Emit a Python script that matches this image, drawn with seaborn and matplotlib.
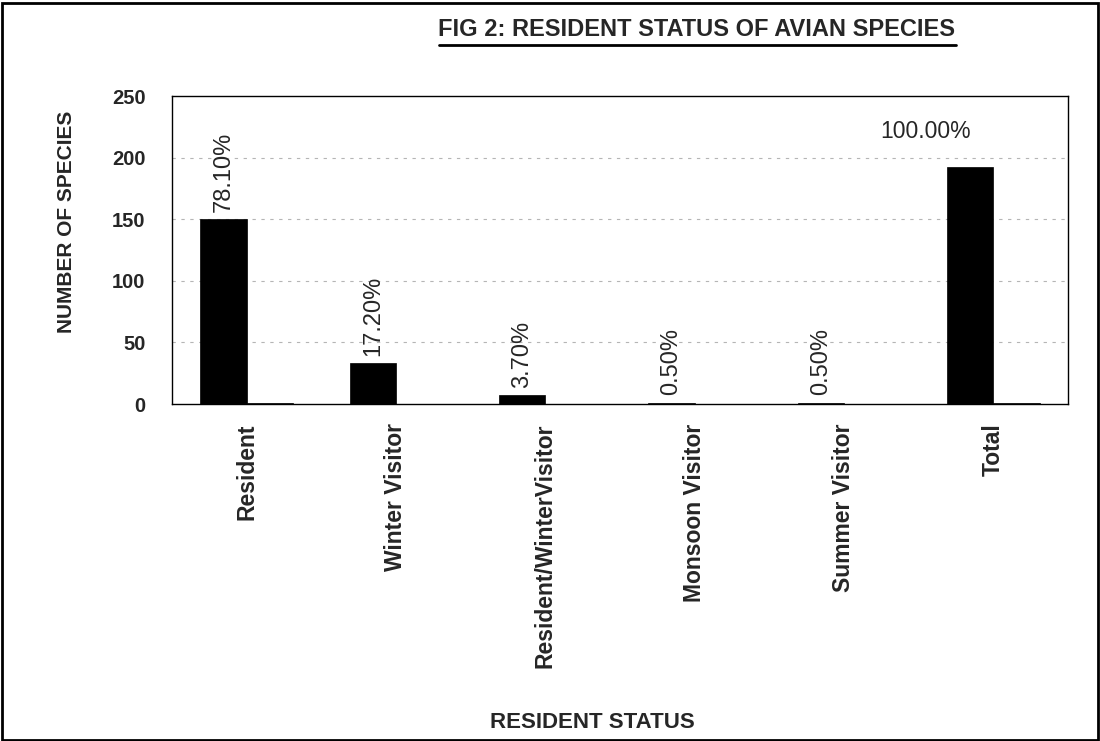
import matplotlib
matplotlib.use("Agg")
import matplotlib.pyplot as plt
import matplotlib.lines as mlines
import matplotlib.patches as mpatches
import seaborn as sns
import pandas as pd

sns.set_theme(style="white")
plt.rcParams["font.family"] = ["Liberation Sans", "DejaVu Sans"]

# dane
statuses = ["Resident", "Winter Visitor", "Resident/WinterVisitor",
            "Monsoon Visitor", "Summer Visitor", "Total"]
species = [150, 33, 7, 1, 1, 192]
share = [0.781, 0.172, 0.037, 0.005, 0.005, 1.0]
share_labels = ["78.10%", "17.20%", "3.70%", "0.50%", "0.50%", "100.00%"]

df = pd.DataFrame({
    "status": statuses * 2,
    "value": species + share,
    "series": ["No. of species"] * len(statuses) + ["Percentage"] * len(statuses),
})

fig = plt.figure(figsize=(11, 7.41), dpi=100)
ax = fig.add_axes([172 / 1100, 1 - 404 / 741, (1068 - 172) / 1100, (404 - 96) / 741])

sns.barplot(data=df, x="status", y="value", hue="series",
            palette=["black", "black"], width=0.62, legend=False,
            edgecolor="black", linewidth=0.5, ax=ax)

ax.set_xlim(-0.5, len(statuses) - 0.5)
ax.set_ylim(0, 250)
ax.set_yticks(range(0, 251, 50))
for y in range(50, 250, 50):
    ax.axhline(y, color="#b5b5b5", lw=0.8, ls=(0, (3, 5)), zorder=0)

# etykiety procentowe nad słupkami
for i, (v, lab) in enumerate(zip(species, share_labels)):
    x = i - 0.155
    if lab == "100.00%":
        ax.text(x - 0.3, v + 29, lab, ha="center", va="center", fontsize=16.5)
    else:
        ax.text(x, v + 6, lab, ha="center", va="bottom", rotation=90, fontsize=17)

ax.set_xticks(range(len(statuses)))
ax.set_xticklabels(statuses, rotation=90, fontsize=16.5, fontweight="bold")
ax.set_xticks([k - 0.5 for k in range(len(statuses) + 1)], minor=True)
ax.tick_params(axis="x", which="major", length=0, pad=14)
ax.tick_params(axis="x", which="minor", length=6, width=1, direction="out", color="black")
ax.tick_params(axis="y", length=5, width=1, direction="out", color="black",
               labelsize=14.5, pad=14)
for t in ax.get_yticklabels():
    t.set_fontweight("bold")

for s in ax.spines.values():
    s.set_color("black")
    s.set_linewidth(1)

ax.set_xlabel("")
ax.set_ylabel("NUMBER OF SPECIES", fontsize=15, fontweight="bold")
ax.yaxis.set_label_coords((76 - 172) / 896, (404 - 222) / 308)
fig.text(592 / 1100, 1 - 722 / 741, "RESIDENT STATUS", ha="center", va="center",
         fontsize=16, fontweight="bold")

title = fig.text(697 / 1100, 1 - 30 / 741, "FIG 2: RESIDENT STATUS OF AVIAN SPECIES",
                 ha="center", va="center", fontsize=17, fontweight="bold")

# podkreślenie tytułu
fig.canvas.draw()
bb = title.get_window_extent().transformed(fig.transFigure.inverted())
fig.add_artist(mlines.Line2D([bb.x0, bb.x1], [bb.y0 - 0.005, bb.y0 - 0.005],
                             color="black", lw=2))

# ramka dookoła całości
fig.add_artist(mpatches.Rectangle((0.002, 0.002), 0.996, 0.994, transform=fig.transFigure,
                                  fill=False, edgecolor="black", lw=2))

fig.savefig("out.png", dpi=100)
